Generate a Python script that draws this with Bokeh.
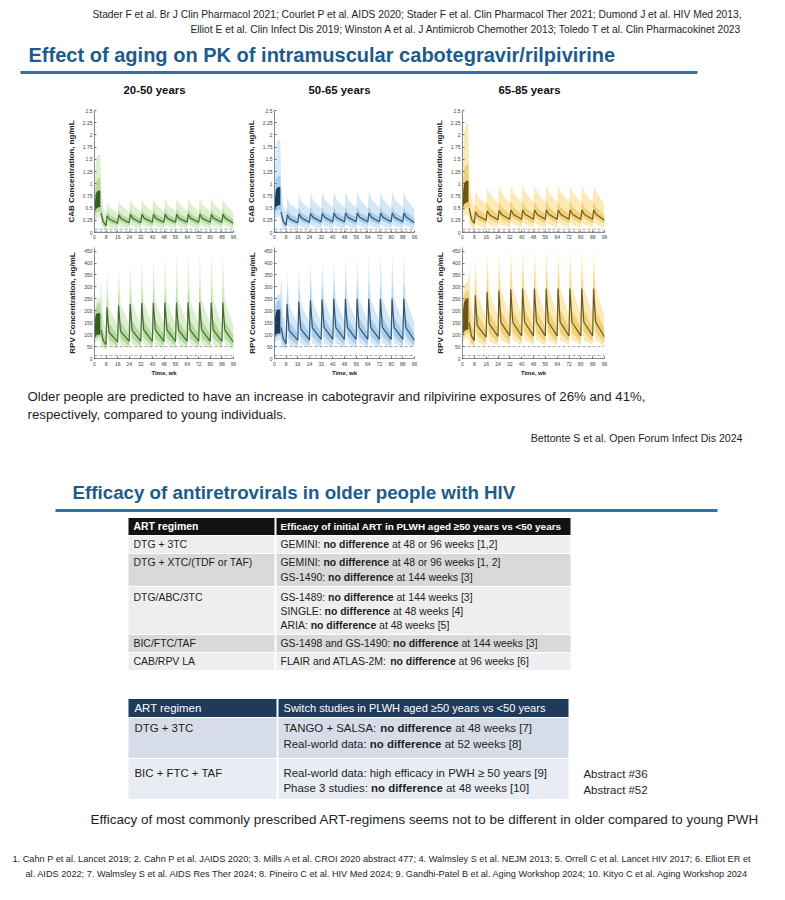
from bokeh.plotting import figure
from bokeh.layouts import column, row
from bokeh.models import Range1d, Label, Span, FixedTicker
from bokeh.core.properties import value
from bokeh.embed import file_html
from bokeh.resources import INLINE

# ------------------------------------------------------------------ data
age_groups = ["20-50 years", "50-65 years", "65-85 years"]
cab_titles = ["CAB Q8W - young (50% female)", "CAB Q8W - middle-aged (50% female)",
              "CAB Q8W - older (50% female)"]
week_ticks = [0, 8, 16, 24, 32, 40, 48, 56, 64, 72, 80, 88, 96]
cab_ticks = [0, 0.25, 0.5, 0.75, 1, 1.25, 1.5, 1.75, 2, 2.25, 2.5]
cab_tick_labels = ["0", "0.25", "0.5", "0.75", "1", "1.25", "1.5", "1.75", "2", "2.25", "2.5"]
rpv_ticks = [0, 50, 100, 150, 200, 250, 300, 350, 400, 450]
rpv_tick_labels = ["0", "50", "100", "150", "200", "250", "300", "350", "400", "450"]
cab_targets = [0.0664, 0.0166]      # x10^4 ng/mL
rpv_targets = [50, 12]              # ng/mL

# oral lead-in (weeks)
lead_t = [0, 0.3, 1, 2, 3, 4]
# long-acting phase (weeks): pre, then each Q8W dose (trough, peak, post-peak), end
cab_t = [4.5, 6,
         8, 8.7, 10.5, 16, 16.7, 18.5, 24, 24.7, 26.5, 32, 32.7, 34.5,
         40, 40.7, 42.5, 48, 48.7, 50.5, 56, 56.7, 58.5, 64, 64.7, 66.5,
         72, 72.7, 74.5, 80, 80.7, 82.5, 88, 88.7, 90.5,
         96]
rpv_t = [4.5, 6,
         8, 8.6, 10, 16, 16.6, 18, 24, 24.6, 26, 32, 32.6, 34,
         40, 40.6, 42, 48, 48.6, 50, 56, 56.6, 58, 64, 64.6, 66,
         72, 72.6, 74, 80, 80.6, 82, 88, 88.6, 90,
         96]

# ---- CAB young (x10^4 ng/mL)
cab_young_lead_blo = [0, 0.42, 0.48, 0.50, 0.52, 0.52]
cab_young_lead_bhi = [0, 0.62, 0.80, 0.85, 0.86, 0.86]
cab_young_lead_p25 = [0, 0.35, 0.40, 0.42, 0.43, 0.43]
cab_young_lead_p75 = [0, 0.80, 1.02, 1.10, 1.12, 1.12]
cab_young_lead_p5 = [0, 0.22, 0.28, 0.30, 0.31, 0.31]
cab_young_lead_p95 = [0, 1.05, 1.45, 1.58, 1.60, 1.60]
cab_young_med = [0.40, 0.22,
    0.14, 0.34, 0.27, 0.19, 0.36, 0.28, 0.20, 0.37, 0.29, 0.20, 0.37, 0.29,
    0.21, 0.37, 0.29, 0.21, 0.37, 0.29, 0.21, 0.37, 0.29, 0.21, 0.37, 0.29,
    0.21, 0.37, 0.29, 0.21, 0.37, 0.29, 0.21, 0.37, 0.29,
    0.19]
cab_young_p95 = [0.90, 0.50,
    0.38, 0.62, 0.52, 0.40, 0.66, 0.55, 0.42, 0.68, 0.56, 0.42, 0.69, 0.57,
    0.43, 0.70, 0.57, 0.43, 0.70, 0.57, 0.43, 0.71, 0.58, 0.43, 0.71, 0.58,
    0.43, 0.72, 0.58, 0.43, 0.72, 0.58, 0.43, 0.72, 0.58,
    0.41]
cab_young_p5 = [0.15, 0.08,
    0.05, 0.14, 0.11, 0.07, 0.16, 0.12, 0.08, 0.16, 0.13, 0.08, 0.17, 0.13,
    0.08, 0.17, 0.13, 0.08, 0.17, 0.13, 0.08, 0.17, 0.13, 0.08, 0.17, 0.13,
    0.08, 0.17, 0.13, 0.08, 0.17, 0.13, 0.08, 0.17, 0.13,
    0.07]
cab_young_p75 = [0.55, 0.30,
    0.21, 0.44, 0.36, 0.27, 0.47, 0.37, 0.28, 0.48, 0.38, 0.28, 0.48, 0.38,
    0.29, 0.48, 0.38, 0.29, 0.48, 0.38, 0.29, 0.48, 0.38, 0.29, 0.48, 0.38,
    0.29, 0.48, 0.38, 0.29, 0.48, 0.38, 0.29, 0.48, 0.38,
    0.27]
cab_young_p25 = [0.28, 0.15,
    0.09, 0.25, 0.20, 0.14, 0.27, 0.21, 0.15, 0.28, 0.22, 0.15, 0.28, 0.22,
    0.15, 0.28, 0.22, 0.15, 0.28, 0.22, 0.15, 0.28, 0.22, 0.15, 0.28, 0.22,
    0.15, 0.28, 0.22, 0.15, 0.28, 0.22, 0.15, 0.28, 0.22,
    0.14]

# ---- CAB middle-aged
cab_mid_lead_blo = [0, 0.45, 0.52, 0.55, 0.56, 0.56]
cab_mid_lead_bhi = [0, 0.70, 0.88, 0.92, 0.93, 0.93]
cab_mid_lead_p25 = [0, 0.38, 0.43, 0.45, 0.46, 0.46]
cab_mid_lead_p75 = [0, 0.85, 1.08, 1.14, 1.16, 1.16]
cab_mid_lead_p5 = [0, 0.24, 0.30, 0.32, 0.33, 0.33]
cab_mid_lead_p95 = [0, 1.20, 1.70, 1.86, 1.90, 1.90]
cab_mid_med = [0.42, 0.23,
    0.15, 0.36, 0.28, 0.20, 0.38, 0.30, 0.21, 0.39, 0.31, 0.22, 0.39, 0.31,
    0.22, 0.40, 0.31, 0.22, 0.40, 0.31, 0.22, 0.40, 0.31, 0.22, 0.40, 0.31,
    0.22, 0.40, 0.31, 0.22, 0.40, 0.31, 0.22, 0.40, 0.31,
    0.20]
cab_mid_p95 = [1.00, 0.56,
    0.42, 0.72, 0.60, 0.46, 0.77, 0.64, 0.48, 0.80, 0.66, 0.49, 0.82, 0.67,
    0.50, 0.83, 0.68, 0.50, 0.83, 0.68, 0.50, 0.84, 0.68, 0.50, 0.84, 0.68,
    0.50, 0.84, 0.68, 0.50, 0.84, 0.68, 0.50, 0.84, 0.68,
    0.47]
cab_mid_p5 = [0.16, 0.08,
    0.05, 0.15, 0.11, 0.07, 0.16, 0.12, 0.08, 0.17, 0.13, 0.08, 0.17, 0.13,
    0.08, 0.17, 0.13, 0.08, 0.17, 0.13, 0.08, 0.17, 0.13, 0.08, 0.17, 0.13,
    0.08, 0.17, 0.13, 0.08, 0.17, 0.13, 0.08, 0.17, 0.13,
    0.07]
cab_mid_p75 = [0.60, 0.32,
    0.22, 0.48, 0.38, 0.29, 0.51, 0.40, 0.30, 0.52, 0.41, 0.30, 0.52, 0.41,
    0.31, 0.52, 0.41, 0.31, 0.52, 0.41, 0.31, 0.52, 0.41, 0.31, 0.52, 0.41,
    0.31, 0.52, 0.41, 0.31, 0.52, 0.41, 0.31, 0.52, 0.41,
    0.29]
cab_mid_p25 = [0.30, 0.16,
    0.10, 0.27, 0.21, 0.15, 0.29, 0.22, 0.16, 0.30, 0.23, 0.16, 0.30, 0.23,
    0.16, 0.30, 0.23, 0.16, 0.30, 0.23, 0.16, 0.30, 0.23, 0.16, 0.30, 0.23,
    0.16, 0.30, 0.23, 0.16, 0.30, 0.23, 0.16, 0.30, 0.23,
    0.15]

# ---- CAB older
cab_old_lead_blo = [0, 0.50, 0.58, 0.60, 0.62, 0.62]
cab_old_lead_bhi = [0, 0.80, 1.00, 1.05, 1.06, 1.06]
cab_old_lead_p25 = [0, 0.42, 0.47, 0.50, 0.51, 0.51]
cab_old_lead_p75 = [0, 1.00, 1.30, 1.38, 1.40, 1.40]
cab_old_lead_p5 = [0, 0.27, 0.33, 0.36, 0.37, 0.37]
cab_old_lead_p95 = [0, 1.40, 2.00, 2.20, 2.24, 2.24]
cab_old_med = [0.50, 0.28,
    0.19, 0.42, 0.34, 0.25, 0.44, 0.36, 0.26, 0.45, 0.37, 0.27, 0.46, 0.37,
    0.27, 0.46, 0.37, 0.27, 0.46, 0.37, 0.27, 0.46, 0.37, 0.27, 0.46, 0.37,
    0.27, 0.46, 0.37, 0.27, 0.46, 0.37, 0.27, 0.46, 0.37,
    0.25]
cab_old_p95 = [1.20, 0.70,
    0.52, 0.86, 0.74, 0.58, 0.92, 0.79, 0.60, 0.95, 0.81, 0.61, 0.96, 0.82,
    0.62, 0.97, 0.82, 0.62, 0.97, 0.82, 0.62, 0.97, 0.82, 0.62, 0.97, 0.82,
    0.62, 0.97, 0.82, 0.62, 0.97, 0.82, 0.62, 0.97, 0.82,
    0.58]
cab_old_p5 = [0.18, 0.10,
    0.07, 0.18, 0.14, 0.09, 0.20, 0.15, 0.10, 0.21, 0.16, 0.10, 0.21, 0.16,
    0.10, 0.21, 0.16, 0.10, 0.21, 0.16, 0.10, 0.21, 0.16, 0.10, 0.21, 0.16,
    0.10, 0.21, 0.16, 0.10, 0.21, 0.16, 0.10, 0.21, 0.16,
    0.09]
cab_old_p75 = [0.70, 0.40,
    0.28, 0.58, 0.48, 0.36, 0.62, 0.50, 0.37, 0.63, 0.51, 0.38, 0.64, 0.51,
    0.38, 0.64, 0.51, 0.38, 0.64, 0.51, 0.38, 0.64, 0.51, 0.38, 0.64, 0.51,
    0.38, 0.64, 0.51, 0.38, 0.64, 0.51, 0.38, 0.64, 0.51,
    0.35]
cab_old_p25 = [0.36, 0.20,
    0.13, 0.32, 0.26, 0.18, 0.34, 0.27, 0.19, 0.35, 0.28, 0.19, 0.35, 0.28,
    0.19, 0.35, 0.28, 0.19, 0.35, 0.28, 0.19, 0.35, 0.28, 0.19, 0.35, 0.28,
    0.19, 0.35, 0.28, 0.19, 0.35, 0.28, 0.19, 0.35, 0.28,
    0.18]

# ---- RPV young (ng/mL)
rpv_young_lead_blo = [0, 85, 95, 100, 100, 100]
rpv_young_lead_bhi = [0, 160, 185, 190, 190, 190]
rpv_young_lead_p25 = [0, 75, 85, 88, 90, 90]
rpv_young_lead_p75 = [0, 180, 215, 225, 230, 230]
rpv_young_lead_p5 = [0, 60, 70, 72, 75, 75]
rpv_young_lead_p95 = [0, 200, 235, 245, 250, 250]
rpv_young_med = [120, 75,
    58, 215, 110, 70, 222, 114, 72, 228, 118, 72, 232, 120,
    72, 233, 120, 72, 233, 120, 72, 234, 120, 72, 234, 120,
    72, 234, 120, 72, 234, 120, 72, 234, 120,
    68]
rpv_young_p95 = [330, 170,
    120, 370, 215, 135, 385, 225, 140, 400, 232, 142, 410, 236,
    144, 420, 240, 145, 428, 242, 145, 432, 243, 145, 437, 244,
    145, 440, 245, 145, 442, 245, 145, 445, 245,
    138]
rpv_young_p5 = [55, 42,
    35, 100, 55, 40, 105, 58, 42, 108, 60, 42, 110, 60,
    42, 110, 60, 42, 110, 60, 42, 110, 60, 42, 110, 60,
    42, 110, 60, 42, 110, 60, 42, 110, 60,
    40]
rpv_young_p75 = [200, 110,
    85, 285, 150, 95, 295, 155, 98, 305, 158, 100, 310, 160,
    100, 312, 160, 100, 312, 160, 100, 312, 160, 100, 312, 160,
    100, 312, 160, 100, 312, 160, 100, 312, 160,
    95]
rpv_young_p25 = [85, 55,
    42, 165, 80, 50, 170, 83, 52, 175, 85, 52, 178, 86,
    52, 178, 86, 52, 178, 86, 52, 178, 86, 52, 178, 86,
    52, 178, 86, 52, 178, 86, 52, 178, 86,
    50]

# ---- RPV middle-aged
rpv_mid_lead_blo = [0, 90, 100, 105, 105, 105]
rpv_mid_lead_bhi = [0, 170, 195, 205, 205, 205]
rpv_mid_lead_p25 = [0, 78, 88, 92, 94, 94]
rpv_mid_lead_p75 = [0, 190, 228, 238, 242, 242]
rpv_mid_lead_p5 = [0, 62, 72, 75, 78, 78]
rpv_mid_lead_p95 = [0, 215, 255, 265, 270, 270]
rpv_mid_med = [130, 82,
    62, 228, 118, 76, 238, 124, 78, 244, 128, 80, 248, 130,
    80, 250, 130, 80, 250, 130, 80, 250, 130, 80, 250, 130,
    80, 250, 130, 80, 250, 130, 80, 250, 130,
    76]
rpv_mid_p95 = [350, 185,
    130, 365, 225, 145, 385, 235, 150, 400, 242, 152, 410, 246,
    154, 418, 248, 155, 424, 250, 155, 428, 250, 155, 432, 250,
    155, 435, 250, 155, 437, 250, 155, 438, 250,
    148]
rpv_mid_p5 = [58, 45,
    38, 105, 58, 43, 110, 62, 45, 113, 63, 45, 115, 64,
    45, 115, 64, 45, 115, 64, 45, 115, 64, 45, 115, 64,
    45, 115, 64, 45, 115, 64, 45, 115, 64,
    43]
rpv_mid_p75 = [215, 120,
    92, 300, 160, 103, 312, 166, 106, 320, 170, 108, 325, 172,
    108, 325, 172, 108, 325, 172, 108, 325, 172, 108, 325, 172,
    108, 325, 172, 108, 325, 172, 108, 325, 172,
    103]
rpv_mid_p25 = [90, 58,
    45, 175, 86, 54, 182, 90, 56, 186, 92, 57, 188, 93,
    57, 188, 93, 57, 188, 93, 57, 188, 93, 57, 188, 93,
    57, 188, 93, 57, 188, 93, 57, 188, 93,
    54]

# ---- RPV older
rpv_old_lead_blo = [0, 100, 112, 118, 120, 120]
rpv_old_lead_bhi = [0, 200, 235, 248, 252, 252]
rpv_old_lead_p25 = [0, 88, 98, 104, 106, 106]
rpv_old_lead_p75 = [0, 225, 265, 278, 282, 282]
rpv_old_lead_p5 = [0, 70, 80, 84, 86, 86]
rpv_old_lead_p95 = [0, 255, 300, 315, 320, 320]
rpv_old_med = [150, 95,
    75, 265, 138, 90, 278, 146, 93, 285, 150, 95, 290, 152,
    95, 293, 153, 95, 293, 153, 95, 293, 153, 95, 293, 153,
    95, 293, 153, 95, 293, 153, 95, 293, 153,
    90]
rpv_old_p95 = [400, 220,
    155, 425, 270, 170, 445, 282, 178, 460, 290, 180, 465, 295,
    182, 465, 298, 182, 465, 298, 182, 465, 298, 182, 465, 298,
    182, 465, 298, 182, 465, 298, 182, 465, 298,
    175]
rpv_old_p5 = [65, 52,
    45, 120, 68, 52, 128, 72, 54, 132, 74, 55, 134, 75,
    55, 134, 75, 55, 134, 75, 55, 134, 75, 55, 134, 75,
    55, 134, 75, 55, 134, 75, 55, 134, 75,
    52]
rpv_old_p75 = [250, 140,
    110, 350, 190, 122, 365, 198, 126, 375, 202, 128, 380, 205,
    128, 380, 205, 128, 380, 205, 128, 380, 205, 128, 380, 205,
    128, 380, 205, 128, 380, 205, 128, 380, 205,
    122]
rpv_old_p25 = [105, 68,
    55, 205, 100, 64, 215, 106, 67, 220, 108, 68, 222, 110,
    68, 222, 110, 68, 222, 110, 68, 222, 110, 68, 222, 110,
    68, 222, 110, 68, 222, 110, 68, 222, 110,
    64]

# ---- texts
refs_top = ["Stader F et al. Br J Clin Pharmacol 2021; Courlet P et al. AIDS 2020; Stader F et al. Clin Pharmacol Ther 2021; Dumond J et al. HIV Med 2013,",
            "Elliot E et al. Clin Infect Dis 2019; Winston A et al. J Antimicrob Chemother 2013; Toledo T et al. Clin Pharmacokinet 2023"]
title_1 = "Effect of aging on PK of intramuscular cabotegravir/rilpivirine"
finding = ["Older people are predicted to have an increase in cabotegravir and rilpivirine exposures of 26% and 41%,",
           "respectively, compared to young individuals."]
finding_ref = "Bettonte S et al. Open Forum Infect Dis 2024"
title_2 = "Efficacy of antiretrovirals in older people with HIV"
t1_header = ["ART regimen", "Efficacy of initial ART in PLWH aged \u226550 years vs <50 years"]
t1_regimens = ["DTG + 3TC", "DTG + XTC/(TDF or TAF)", "DTG/ABC/3TC", "BIC/FTC/TAF", "CAB/RPV LA"]
ND = ("no difference", True)
t1_results = [
    [[("GEMINI: ", False), ND, (" at 48 or 96 weeks [1,2]", False)]],
    [[("GEMINI: ", False), ND, (" at 48 or 96 weeks [1, 2]", False)],
     [("GS-1490: ", False), ND, (" at 144 weeks [3]", False)]],
    [[("GS-1489: ", False), ND, (" at 144 weeks [3]", False)],
     [("SINGLE: ", False), ND, (" at 48 weeks [4]", False)],
     [("ARIA: ", False), ND, (" at 48 weeks [5]", False)]],
    [[("GS-1498 and GS-1490: ", False), ND, (" at 144 weeks [3]", False)]],
    [[("FLAIR and ATLAS-2M: ", False), ND, (" at 96 weeks [6]", False)]],
]
t2_header = ["ART regimen", "Switch studies in PLWH aged \u226550 years vs <50 years"]
t2_regimens = ["DTG + 3TC", "BIC + FTC + TAF"]
t2_results = [
    [[("TANGO + SALSA: ", False), ND, (" at 48 weeks [7]", False)],
     [("Real-world data: ", False), ND, (" at 52 weeks [8]", False)]],
    [[("Real-world data: high efficacy in PWH \u2265 50 years [9]", False)],
     [("Phase 3 studies: ", False), ND, (" at 48 weeks [10]", False)]],
]
abstracts = ["Abstract #36", "Abstract #52"]
conclusion = "Efficacy of most commonly prescribed ART-regimens seems not to be different in older compared to young PWH"
refs_bottom = ["1. Cahn P et al. Lancet 2019; 2. Cahn P et al. JAIDS 2020; 3. Mills A et al. CROI 2020 abstract 477; 4. Walmsley S et al. NEJM 2013; 5. Orrell C et al. Lancet HIV 2017; 6. Elliot ER et",
               "al. AIDS 2022; 7. Walmsley S et al. AIDS Res Ther 2024; 8. Pineiro C et al. HIV Med 2024; 9. Gandhi-Patel B et al. Aging Workshop 2024; 10. Kityo C et al. Aging Workshop 2024"]

# ------------------------------------------------------------------ style / helpers
FONT = "Liberation Sans"
INK = "#1e1e1e"
TITLE_BLUE = "#1d5b8b"
RULE_BLUE = "#3571a9"

_CH = " !\"#$%&'()*+,-./0123456789:;<=>?@ABCDEFGHIJKLMNOPQRSTUVWXYZ[\\]^_`abcdefghijklmnopqrstuvwxyz{|}~"
_WR = ([278, 278, 355, 556, 556, 889, 667, 191, 333, 333, 389, 584, 278, 333, 278, 278] + [556] * 10 +
       [278, 278, 584, 584, 584, 556, 1015] +
       [667, 667, 722, 722, 667, 611, 778, 722, 278, 500, 667, 556, 833, 722, 778, 667, 778, 722, 667, 611,
        722, 667, 944, 667, 667, 611] + [278, 278, 278, 469, 556, 333] +
       [556, 556, 500, 556, 556, 278, 556, 556, 222, 222, 500, 222, 833, 556, 556, 556, 556, 333, 500, 278,
        556, 500, 722, 500, 500, 500] + [334, 260, 334, 584])
_WB = ([278, 333, 474, 556, 556, 889, 722, 238, 333, 333, 389, 584, 278, 333, 278, 278] + [556] * 10 +
       [333, 333, 584, 584, 584, 611, 975] +
       [722, 722, 722, 722, 667, 611, 778, 722, 278, 556, 722, 611, 833, 722, 778, 667, 778, 722, 667, 611,
        722, 667, 944, 667, 667, 611] + [333, 278, 333, 584, 556, 333] +
       [556, 611, 556, 611, 556, 333, 611, 611, 278, 278, 556, 278, 889, 611, 611, 611, 611, 389, 556, 333,
        611, 556, 778, 556, 556, 500] + [389, 280, 389, 584])
W_REG = dict(zip(_CH, _WR))
W_BOLD = dict(zip(_CH, _WB))
for d in (W_REG, W_BOLD):
    d["\u2265"] = 549
    d["\u00d7"] = 584


def tw(s, bold=False):
    d = W_BOLD if bold else W_REG
    return sum(d.get(c, 556) for c in s) / 1000.0


def tw_rich(segs):
    return sum(tw(s, b) for s, b in segs)


def put(p, x, y, s, size, bold=False, color=INK, align="left"):
    p.text(x=[x], y=[y], text=[s], text_font=value(FONT), text_font_size=value("%.2fpx" % size),
           text_font_style="bold" if bold else "normal", text_color=color,
           text_align=align, text_baseline="middle")


def put_rich(p, x, y, segs, size, color=INK):
    cx = x
    for s, b in segs:
        stripped = s.lstrip(" ")
        cx += tw(s[:len(s) - len(stripped)], b) * size
        if stripped.strip():
            put(p, cx, y, stripped, size, b, color)
        cx += tw(stripped, b) * size


PAGE_W = 769


def page_fig(h, y0):
    # data coordinates == screenshot pixel coordinates
    p = figure(width=PAGE_W, height=h, x_range=Range1d(0, PAGE_W), y_range=Range1d(y0 + h, y0),
               x_axis_location=None, y_axis_location=None, min_border=0, title=None,
               toolbar_location=None, output_backend="svg")
    p.outline_line_color = None
    p.xgrid.visible = False
    p.ygrid.visible = False
    p.background_fill_color = "white"
    p.border_fill_color = "white"
    return p


PAL = [
    dict(outer="#dcefcf", inner="#b4da9c", block="#355f22", line="#46693a"),
    dict(outer="#d3e7f6", inner="#a7cdec", block="#1b3b5d", line="#36566f"),
    dict(outer="#fbeab6", inner="#f2d079", block="#6a5418", line="#6b5a27"),
]


def pk_panel(width, bl, br, height, bt, bb, ymax, yticks, ylabels, ylabel, xlabel, pal,
             t_post, lead, post, targets, title=None):
    p = figure(width=width, height=height, x_range=Range1d(0, 96), y_range=Range1d(0, ymax),
               min_border_left=bl, min_border_right=br, min_border_top=bt, min_border_bottom=bb,
               title=None, toolbar_location=None, output_backend="svg")
    p.outline_line_color = None
    p.grid.visible = False
    p.background_fill_color = "white"
    p.border_fill_color = "white"
    blo, bhi, l25, l75, l5, l95 = lead
    med, p25, p75, p5, p95 = post
    x = lead_t + t_post
    p.varea(x=x, y1=l5 + p5, y2=l95 + p95, fill_color=pal["outer"])
    p.varea(x=x, y1=l25 + p25, y2=l75 + p75, fill_color=pal["inner"])
    p.varea(x=lead_t, y1=blo, y2=bhi, fill_color=pal["block"])
    p.line(t_post, med, line_color=pal["line"], line_width=1.2)
    for v in targets:
        p.add_layout(Span(location=v, dimension="width", line_color="#8c8c8c",
                          line_dash="3 2", line_width=0.8))
    p.xaxis.ticker = FixedTicker(ticks=week_ticks)
    p.yaxis.ticker = FixedTicker(ticks=yticks)
    p.yaxis.major_label_overrides = {t: l for t, l in zip(yticks, ylabels)}
    for ax in (p.xaxis[0], p.yaxis[0]):
        ax.axis_line_color = "#6a6a6a"
        ax.axis_line_width = 0.8
        ax.major_tick_line_color = "#6a6a6a"
        ax.major_tick_in = 2
        ax.major_tick_out = 0
        ax.minor_tick_line_color = None
        ax.major_label_text_font = FONT
        ax.major_label_text_font_size = "5px"
        ax.major_label_text_color = "#444444"
        ax.major_label_standoff = 2
        ax.axis_label_text_font = FONT
        ax.axis_label_text_font_style = "bold"
        ax.axis_label_text_color = "#222222"
    p.yaxis.axis_label = ylabel
    p.yaxis.axis_label_text_font_size = "8px"
    p.yaxis.axis_label_standoff = 4
    if xlabel:
        p.xaxis.axis_label = xlabel
        p.xaxis.axis_label_text_font_size = "6px"
        p.xaxis.axis_label_standoff = 1
        p.xaxis.major_label_standoff = 3
    if title:
        p.add_layout(Label(x=48, y=ymax, x_offset=-7, y_offset=1.5, text=title, text_align="center",
                           text_baseline="bottom", text_font=FONT, text_font_size="6px",
                           text_font_style="bold", text_color="#222222"))
        p.add_layout(Label(x=0, y=ymax, x_offset=2, y_offset=1.5, text="\u00d710\u2074",
                           text_baseline="bottom", text_font=FONT, text_font_size="4.5px",
                           text_color="#555555"))
    return p


# ------------------------------------------------------------------ header
top = page_fig(98, 0)
ref_size = 650 / tw(refs_top[0])
put(top, 742, 14, refs_top[0], ref_size, color=INK, align="right")
put(top, 742, 29, refs_top[1], ref_size, color=INK, align="right")
put(top, 28, 54, title_1, 587 / tw(title_1, True), bold=True, color=TITLE_BLUE)
top.quad(left=[20], right=[697], top=[70.5], bottom=[73.5], fill_color=RULE_BLUE, line_color=None)
col_size = 62 / tw(age_groups[0], True)
for cx, g in zip([154, 339, 529], age_groups):
    put(top, cx, 89, g, col_size, bold=True, color="#111111", align="center")

# ------------------------------------------------------------------ PK panels
geom = [(240, 94, 7), (180, 34, 6), (349, 42, 165)]
cab_sets = [
    ((cab_young_lead_blo, cab_young_lead_bhi, cab_young_lead_p25, cab_young_lead_p75, cab_young_lead_p5, cab_young_lead_p95),
     (cab_young_med, cab_young_p25, cab_young_p75, cab_young_p5, cab_young_p95)),
    ((cab_mid_lead_blo, cab_mid_lead_bhi, cab_mid_lead_p25, cab_mid_lead_p75, cab_mid_lead_p5, cab_mid_lead_p95),
     (cab_mid_med, cab_mid_p25, cab_mid_p75, cab_mid_p5, cab_mid_p95)),
    ((cab_old_lead_blo, cab_old_lead_bhi, cab_old_lead_p25, cab_old_lead_p75, cab_old_lead_p5, cab_old_lead_p95),
     (cab_old_med, cab_old_p25, cab_old_p75, cab_old_p5, cab_old_p95)),
]
rpv_sets = [
    ((rpv_young_lead_blo, rpv_young_lead_bhi, rpv_young_lead_p25, rpv_young_lead_p75, rpv_young_lead_p5, rpv_young_lead_p95),
     (rpv_young_med, rpv_young_p25, rpv_young_p75, rpv_young_p5, rpv_young_p95)),
    ((rpv_mid_lead_blo, rpv_mid_lead_bhi, rpv_mid_lead_p25, rpv_mid_lead_p75, rpv_mid_lead_p5, rpv_mid_lead_p95),
     (rpv_mid_med, rpv_mid_p25, rpv_mid_p75, rpv_mid_p5, rpv_mid_p95)),
    ((rpv_old_lead_blo, rpv_old_lead_bhi, rpv_old_lead_p25, rpv_old_lead_p75, rpv_old_lead_p5, rpv_old_lead_p95),
     (rpv_old_med, rpv_old_p25, rpv_old_p75, rpv_old_p5, rpv_old_p95)),
]
cab_figs, rpv_figs = [], []
for i in range(3):
    w, bl, br = geom[i]
    cab_figs.append(pk_panel(w, bl, br, 147, 12, 13, 2.5, cab_ticks, cab_tick_labels,
                             "CAB Concentration, ng/mL", None, PAL[i], cab_t,
                             cab_sets[i][0], cab_sets[i][1], cab_targets, title=cab_titles[i]))
    rpv_figs.append(pk_panel(w, bl, br, 135, 2, 22, 465, rpv_ticks, rpv_tick_labels,
                             "RPV Concentration, ng/mL", "Time, wk", PAL[i], rpv_t,
                             rpv_sets[i][0], rpv_sets[i][1], rpv_targets))

# ------------------------------------------------------------------ bottom part
bot = page_fig(504, 380)
fsize = 618 / tw(finding[0])
put(bot, 27, 396, finding[0], fsize)
put(bot, 27, 414, finding[1], fsize)
put(bot, 742, 437, finding_ref, 212 / tw(finding_ref), align="right")
put(bot, 72, 492, title_2, 443 / tw(title_2, True), bold=True, color=TITLE_BLUE)
bot.quad(left=[55], right=[717], top=[508.5], bottom=[511.5], fill_color=RULE_BLUE, line_color=None)


def draw_table(p, x0, xs, x1, ys, fills):
    for i in range(len(ys) - 1):
        p.quad(left=[x0, xs + 1], right=[xs - 1, x1], top=[ys[i] + 0.5] * 2, bottom=[ys[i + 1] - 0.5] * 2,
               fill_color=fills[i], line_color=None)


# table 1
draw_table(bot, 128, 275, 570, [517, 535, 553, 586, 634, 652, 670],
           ["#121212", "#eeeeee", "#d9d9d9", "#eeeeee", "#d9d9d9", "#eeeeee"])
t1_size = 217 / tw_rich(t1_results[0][0])
put(bot, 133, 526, t1_header[0], t1_size, bold=True, color="white")
put(bot, 280, 526, t1_header[1], 282 / tw(t1_header[1], True), bold=True, color="white")
t1_lines_y = [[544], [562, 577], [597, 611, 625], [643], [661]]
for reg, res, ys in zip(t1_regimens, t1_results, t1_lines_y):
    put(bot, 133, ys[0], reg, t1_size)
    for segs, y in zip(res, ys):
        put_rich(bot, 280, y, segs, t1_size)

# table 2
draw_table(bot, 128, 277, 568, [698, 717, 758, 799], ["#203a5c", "#d6dde8", "#e9edf3"])
t2_size = 264 / tw_rich(t2_results[1][0])
put(bot, 134, 707, t2_header[0], t2_size, color="white")
put(bot, 283, 707, t2_header[1], 263 / tw(t2_header[1]), color="white")
t2_lines_y = [[727, 743], [772, 787]]
for reg, res, ys in zip(t2_regimens, t2_results, t2_lines_y):
    put(bot, 134, ys[0], reg, t2_size)
    for segs, y in zip(res, ys):
        put_rich(bot, 283, y, segs, t2_size)
put(bot, 583, 773, abstracts[0], t2_size)
put(bot, 583, 789, abstracts[1], t2_size)

put(bot, 90, 819, conclusion, 670 / tw(conclusion))
foot_size = 740 / tw(refs_bottom[0])
put(bot, 12, 858, refs_bottom[0], foot_size)
put(bot, 25, 873, refs_bottom[1], foot_size)

layout = column(top, row(*cab_figs), row(*rpv_figs), bot)
open("out.html", "w").write(file_html(layout, INLINE))
